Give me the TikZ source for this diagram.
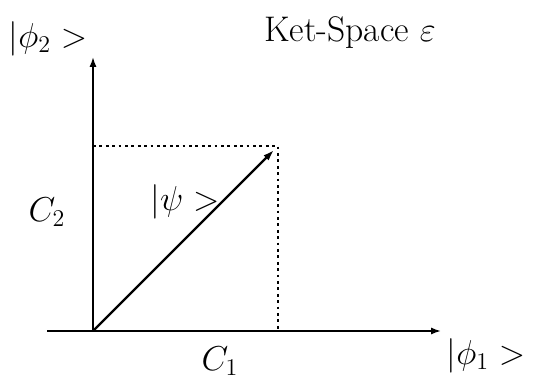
\documentclass[tikz,border=0pt]{standalone}
\usepackage{amsmath,amssymb}
\usetikzlibrary{arrows.meta}

\begin{document}
\begin{tikzpicture}[x=0.5pt, y=0.5pt,
  axis/.style={line width=0.9pt, -{Latex[length=5pt, width=3.6pt]}},
  vec/.style={line width=1.1pt, -{Latex[length=5.5pt, width=3.6pt]}},
  guide/.style={line width=1.3pt, dash pattern=on 1.4pt off 1.8pt},
  lbl/.style={font=\fontsize{17.8}{21}\selectfont, inner sep=0pt}]
\useasboundingbox (0,0) rectangle (544,379);
\coordinate (O) at (93,48);
\coordinate (xs) at (47,48);
\coordinate (xe) at (441,48);
\coordinate (ye) at (93,322);
\coordinate (P) at (278,233);
\coordinate (tip) at (274,229);
\draw[axis] (xs) -- (xe);
\draw[axis] (O) -- (ye);
\draw[guide] (O |- P) -- (P) -- (P |- O);
\draw[vec] (O) -- (tip);
\node[lbl] (phi2) at (48,340) {$|\phi_2>$};
\node[lbl] (title) at (350,346) {Ket-Space $\varepsilon$};
\node[lbl] (c2) at (47,167) {$C_2$};
\node[lbl] (psi) at (185,177) {$|\psi>$};
\node[lbl] (c1) at (220,18) {$C_1$};
\node[lbl] (phi1) at (486,23) {$|\phi_1>$};
\end{tikzpicture}
\end{document}
